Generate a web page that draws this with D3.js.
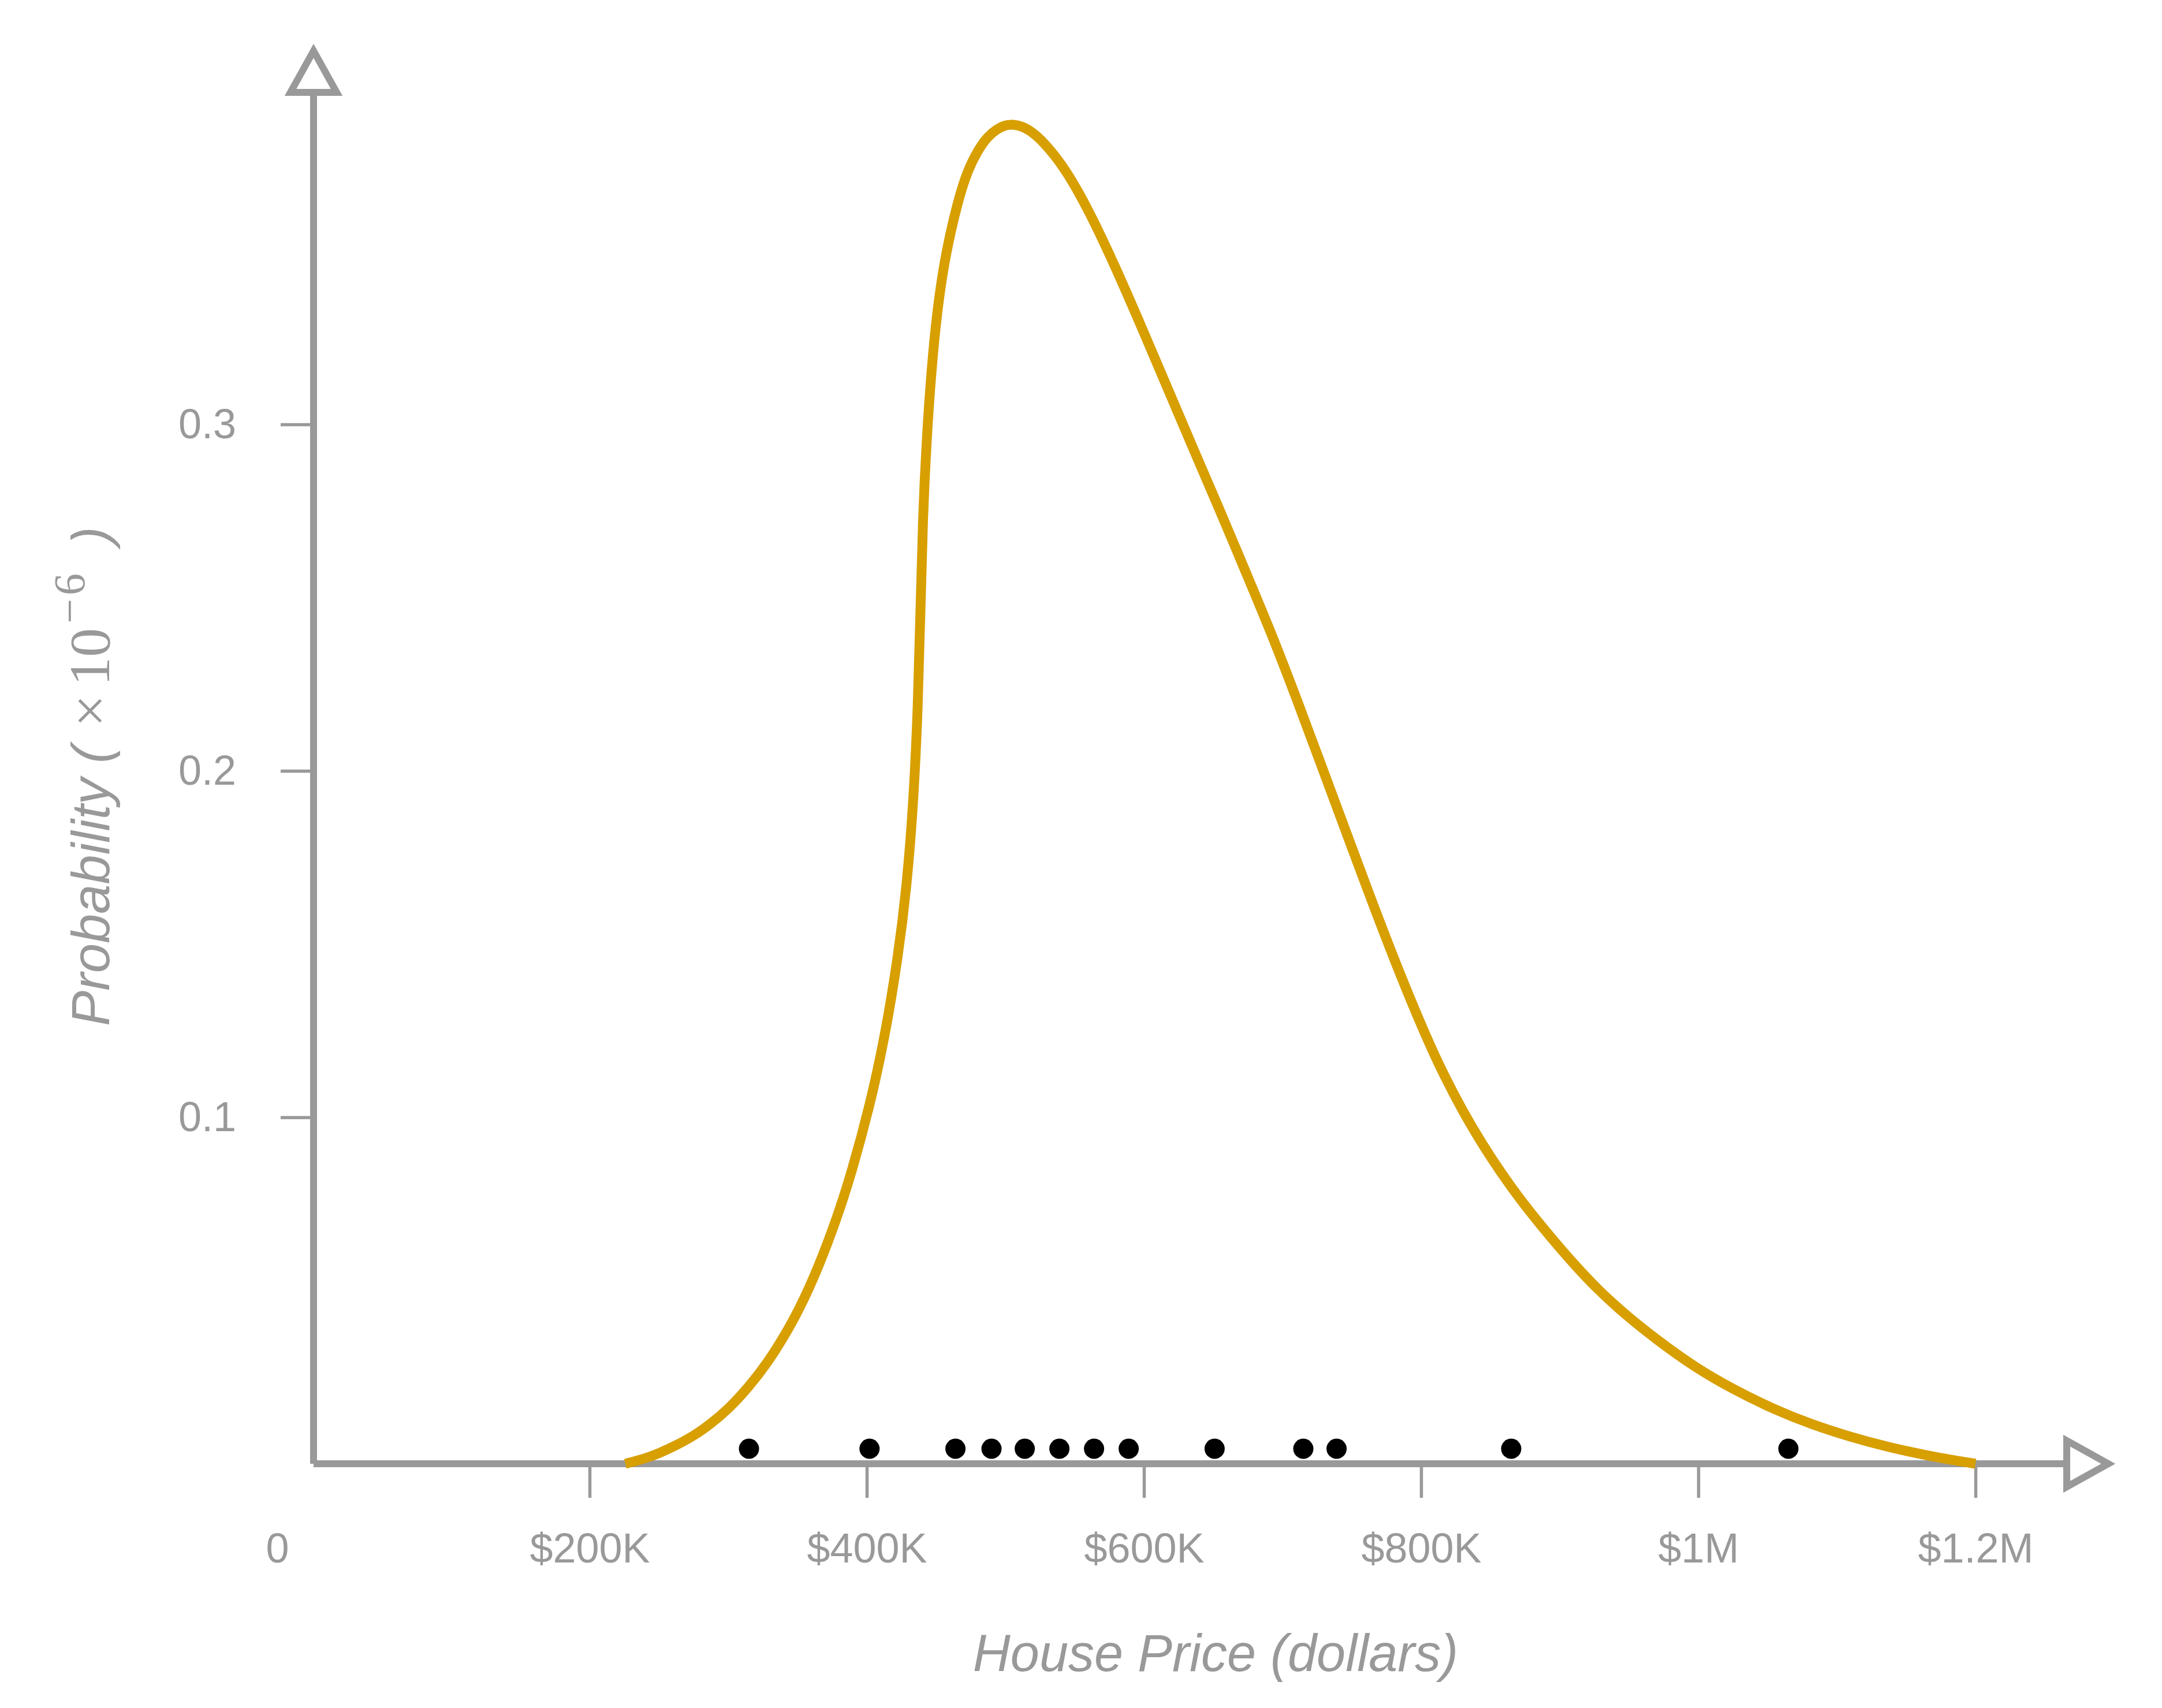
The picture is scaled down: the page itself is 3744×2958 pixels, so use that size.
<!DOCTYPE html>
<html>
<head>
<meta charset="utf-8">
<script src="https://cdn.jsdelivr.net/npm/d3@7"></script>
<style>
  html, body { margin: 0; padding: 0; background: #ffffff; }
  svg { display: block; }
</style>
</head>
<body>
<svg id="chart" width="3744" height="2958"></svg>
<script>
// ---------------- data ----------------
const xTickValues = [0, 200000, 400000, 600000, 800000, 1000000, 1200000];
const xTickLabels = ["0", "$200K", "$400K", "$600K", "$800K", "$1M", "$1.2M"];
const yTickValues = [0.1, 0.2, 0.3];
const yTickLabels = ["0.1", "0.2", "0.3"];

// density curve: price (thousands of dollars) and density (units of 1e-6)
const densityPriceK = [
  225.8, 240, 250, 262, 275, 287, 300, 315, 329, 340, 351, 365, 379, 389,
  402, 413, 422.5, 428.7, 433.6, 437, 438.8, 440.4, 443.3, 446.7, 450.8,
  456.7, 466, 473, 480, 487, 494, 500, 505, 512, 519, 525, 535, 545, 560,
  580, 600, 617.5, 635, 655, 673, 692, 710, 729, 748, 766, 785, 804, 817,
  830, 844, 858, 872, 886, 907, 928, 949, 970, 998, 1026, 1054, 1082, 1110,
  1137, 1168, 1200
];
const densityValue = [
  0.0000, 0.0015, 0.0030, 0.0052, 0.0080, 0.0114, 0.0157, 0.0222, 0.0295, 0.0365, 0.0443, 0.0565, 0.0715, 0.0840,
  0.1030, 0.1230, 0.1460, 0.1660, 0.1900, 0.2187, 0.2473, 0.2727, 0.2967, 0.3160, 0.3330,
  0.3490, 0.3650, 0.3735, 0.3790, 0.3830, 0.3853, 0.3864, 0.3866, 0.3861, 0.3845, 0.3825, 0.3780, 0.3725, 0.3620,
  0.3450, 0.3265, 0.3100, 0.2935, 0.2750, 0.2578, 0.2397, 0.2210, 0.2005, 0.1800, 0.1607, 0.1410, 0.1228, 0.1117,
  0.1018, 0.0923, 0.0838, 0.0760, 0.0690, 0.0590, 0.0500, 0.0425, 0.0358, 0.0277, 0.0213, 0.0158, 0.0113, 0.0077,
  0.0048, 0.0021, 0.0000
];

// observed house prices (rug points, dollars)
const housePrices = [
  315000, 402000, 464000, 490000, 514000, 539000, 564000, 589000,
  651000, 715000, 739000, 865000, 1065000
];

const xTitle = "House Price (dollars)";

// ---------------- drawing ----------------
const GRAY = "#999999";
const GOLD = "#d79f00";
const SANS = "'Liberation Sans', Arial, Helvetica, sans-serif";
const SERIF = "'Liberation Serif', 'DejaVu Serif', serif";

const svg = d3.select("#chart");

const x = d3.scaleLinear().domain([0, 1200000]).range([541, 3421]);
const y = d3.scaleLinear().domain([0, 0.3]).range([2535, 735]);

const x0 = x(0) + 2;     // y-axis line position
const y0 = y(0);         // x-axis line position

// X axis ticks & labels
const xAxis = d3.axisBottom(x)
  .tickValues(xTickValues)
  .tickFormat((d, i) => xTickLabels[i])
  .tickSize(59)
  .tickPadding(61);

const gx = svg.append("g")
  .attr("transform", `translate(0,${y0})`)
  .call(xAxis);
gx.select(".domain").remove();
gx.selectAll(".tick line").attr("stroke", GRAY).attr("stroke-width", 5.5);
gx.selectAll(".tick text")
  .attr("fill", GRAY)
  .attr("font-family", SANS)
  .attr("font-size", 72);
// the "0" label sits left of the origin without a tick mark
gx.selectAll(".tick").filter(d => d === 0).select("line").remove();
gx.selectAll(".tick").filter(d => d === 0).select("text").attr("x", -61);

// Y axis ticks & labels
const yAxis = d3.axisLeft(y)
  .tickValues(yTickValues)
  .tickFormat((d, i) => yTickLabels[i])
  .tickSize(57)
  .tickPadding(77);

const gy = svg.append("g")
  .attr("transform", `translate(${x0},0)`)
  .call(yAxis);
gy.select(".domain").remove();
gy.selectAll(".tick line").attr("stroke", GRAY).attr("stroke-width", 5.5);
gy.selectAll(".tick text")
  .attr("fill", GRAY)
  .attr("font-family", SANS)
  .attr("font-size", 72);

// axis lines
svg.append("line")
  .attr("x1", x0).attr("y1", y0)
  .attr("x2", x0).attr("y2", 160)
  .attr("stroke", GRAY).attr("stroke-width", 12);
svg.append("line")
  .attr("x1", x0).attr("y1", y0)
  .attr("x2", 3579).attr("y2", y0)
  .attr("stroke", GRAY).attr("stroke-width", 12);

// arrow heads (hollow triangles)
svg.append("path")
  .attr("d", `M${x0 - 40},160 L${x0 + 40},160 L${x0},88 Z`)
  .attr("fill", "#ffffff").attr("stroke", GRAY).attr("stroke-width", 12)
  .attr("stroke-linejoin", "miter");
svg.append("path")
  .attr("d", `M3579,${y0 - 40} L3579,${y0 + 40} L3651,${y0} Z`)
  .attr("fill", "#ffffff").attr("stroke", GRAY).attr("stroke-width", 12)
  .attr("stroke-linejoin", "miter");

// density curve
const densityData = densityPriceK.map((p, i) => ({ p: p * 1000, v: densityValue[i] }));
const line = d3.line()
  .x(d => x(d.p))
  .y(d => y(d.v))
  .curve(d3.curveBasis);

svg.append("path")
  .datum(densityData)
  .attr("d", line)
  .attr("fill", "none")
  .attr("stroke", GOLD)
  .attr("stroke-width", 17)
  .attr("stroke-linecap", "butt")
  .attr("stroke-linejoin", "round");

// rug points
svg.append("g")
  .selectAll("circle")
  .data(housePrices)
  .join("circle")
  .attr("cx", d => x(d))
  .attr("cy", y0 - 26)
  .attr("r", 17.5)
  .attr("fill", "#000000");

// x-axis title
svg.append("text")
  .attr("x", 2105)
  .attr("y", 2894)
  .attr("text-anchor", "middle")
  .attr("font-family", SANS)
  .attr("font-style", "italic")
  .attr("font-size", 90)
  .attr("fill", GRAY)
  .text(xTitle);

// y-axis title: Probability ( ×10^−6 )
const yt = svg.append("text")
  .attr("transform", "translate(189,1777) rotate(-90)")
  .attr("text-anchor", "start")
  .attr("fill", GRAY)
  .attr("font-family", SANS)
  .attr("font-size", 92);
yt.append("tspan").attr("font-style", "italic").text("Probability (");
yt.append("tspan").attr("font-family", SERIF).attr("font-size", 100).attr("dx", 32).text("×");
yt.append("tspan").attr("font-family", SERIF).attr("font-size", 100).attr("dx", 15).text("10");
yt.append("tspan").attr("font-family", SERIF).attr("font-size", 76).attr("dy", -43).attr("dx", 8).text("−");
yt.append("tspan").attr("font-family", SERIF).attr("font-size", 76).attr("dx", 6).text("6");
yt.append("tspan").attr("font-style", "italic").attr("dy", 43).attr("dx", 50).text(")");
</script>
</body>
</html>
